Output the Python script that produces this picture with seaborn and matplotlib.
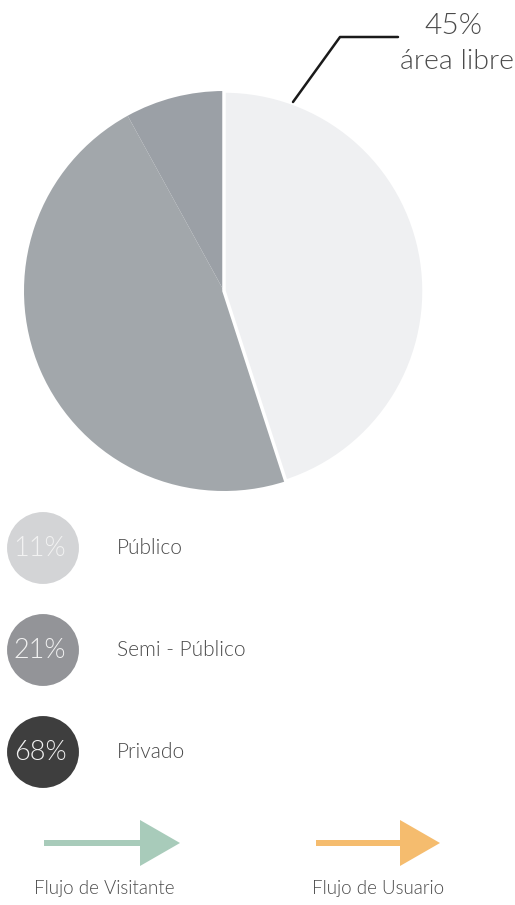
import matplotlib
matplotlib.use("Agg")
import matplotlib.pyplot as plt
from matplotlib.patches import FancyArrow
import seaborn as sns
import pandas as pd

# ---- data ----
pie_labels = ["área libre", "ocupado", "ocupado (sombra)"]
pie_values = [45, 47, 8]
pie_colors = ["#EFF0F2", "#A2A7AB", "#9BA0A6"]
callout_value = "45%"
callout_text = "área libre"

legend_labels = ["Público", "Semi - Público", "Privado"]
legend_values = [11, 21, 68]
legend_colors = ["#D3D4D6", "#939498", "#3E3E3E"]

flow_labels = ["Flujo de Visitante", "Flujo de Usuario"]
flow_colors = ["#A8CBBA", "#F5BC6E"]

sns.set_theme(style="white")
plt.rcParams["font.family"] = ["Lato", "DejaVu Sans"]

W, H = 515, 905
fig = plt.figure(figsize=(W / 100, H / 100), dpi=100)
ax = fig.add_axes([0, 0, 1, 1])

def Y(y):
    return H - y

LW = 300  # Lato Light

# ---- pie ----
wedges, _ = ax.pie(pie_values, colors=pie_colors, startangle=90, counterclock=False,
                   center=(224, Y(291)), radius=200, frame=True,
                   wedgeprops=dict(linewidth=0))
wedges[0].set_edgecolor("white")
wedges[0].set_linewidth(2.5)
wedges[0].set_zorder(3)

# callout
ax.plot([293, 340, 398], [Y(102), Y(37), Y(37)], color="#1a1a1a", lw=1.8, zorder=5)
ax.text(453, Y(26), callout_value, ha="center", va="center", fontsize=21.5,
        color="#4a4a4a", fontweight=LW)
ax.text(457, Y(62), callout_text, ha="center", va="center", fontsize=20.5,
        color="#4a4a4a", fontweight=LW)

# ---- legend circles ----
ys = [548, 650, 752]
df = pd.DataFrame({"x": [43] * 3, "y": [Y(v) for v in ys], "lab": legend_labels})
sns.scatterplot(data=df, x="x", y="y", hue="lab", palette=legend_colors, s=2680,
                linewidth=0, legend=False, ax=ax)
for yy, v, lab in zip(ys, legend_values, legend_labels):
    ax.text(40, Y(yy), f"{v}%", ha="center", va="center", fontsize=19.5,
            color="#F2F2F2", fontweight=LW)
    ax.text(117, Y(yy), lab, ha="left", va="center", fontsize=15,
            color="#4a4a4a", fontweight=LW)

# ---- flow arrows ----
arrow_x = [(44, 180), (316, 440)]
label_x = [104, 378]
for (x0, x1), c, lab, lx in zip(arrow_x, flow_colors, flow_labels, label_x):
    ax.add_patch(FancyArrow(x0, Y(843), x1 - x0, 0, width=6, head_width=46,
                            head_length=40, length_includes_head=True,
                            color=c, linewidth=0))
    ax.text(lx, Y(888), lab, ha="center", va="center", fontsize=13.5,
            color="#4a4a4a", fontweight=LW)

ax.set_xlabel("")
ax.set_ylabel("")
ax.set_xlim(0, W)
ax.set_ylim(0, H)
ax.set_aspect("equal")
ax.axis("off")

fig.savefig("out.png", dpi=100)
